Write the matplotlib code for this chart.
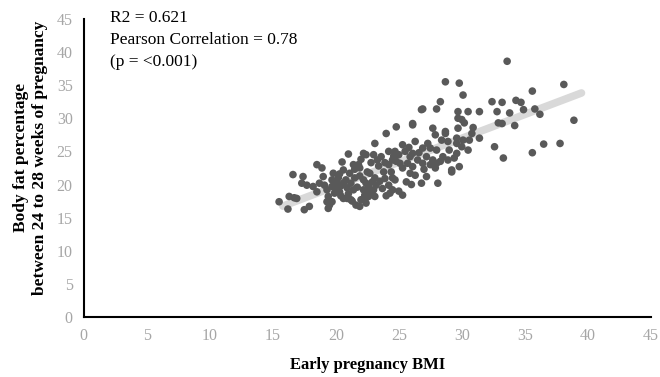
import numpy as np
import matplotlib.pyplot as plt

# early pregnancy BMI and body fat % (24-28 weeks)
bmi = [
    15.5, 16.2, 16.3, 16.7, 16.6, 16.9, 17.3, 17.4, 17.5, 17.9, 17.7, 18.2, 18.5, 18.5,
    18.9, 19.0, 18.7, 19.3, 19.4, 19.3, 19.5, 19.7, 19.8, 19.9, 19.1, 19.7, 20.1, 19.4,
    24.0, 23.1, 21.0, 22.2, 22.4, 23.0, 23.6, 24.2, 24.8, 21.4, 21.9, 20.6, 21.1, 20.2,
    22.7, 23.1, 23.8, 24.4, 24.5, 20.8, 21.5, 22.2, 19.9, 20.6, 21.2, 22.4, 23.2, 24.2,
    20.3, 21.4, 22.2, 23.0, 24.3, 20.6, 21.2, 22.0, 22.3, 21.6, 22.4, 23.1, 19.7, 21.8,
    26.8, 24.8, 26.1, 27.7, 27.9, 28.7, 29.7, 25.3, 26.3, 26.9, 27.5, 28.9, 29.6, 24.7,
    25.5, 26.1, 28.0, 29.0, 24.5, 25.9, 26.5, 27.2, 27.7, 28.5, 29.6, 25.1, 25.7, 26.9,
    28.3, 28.9, 25.3, 26.1, 27.5, 28.0, 29.2, 25.9, 26.3, 27.2, 24.7, 25.6, 26.8, 28.1,
    24.5, 25.3,
    29.8, 30.1, 32.4, 33.2, 34.3, 29.7, 30.5, 31.4, 32.8, 33.8, 30.0, 30.2, 32.9, 34.2,
    29.7, 30.9, 30.8, 31.4, 30.1, 30.6, 29.6, 30.0, 30.5, 32.6, 29.4, 33.3, 29.8, 29.2,
    33.6, 38.1, 35.6, 34.7, 34.9, 35.8, 36.2, 38.9, 33.2, 36.5, 37.8, 35.6,
    28.7, 28.3, 26.9, 28.0, 26.1, 28.7,
    20.9, 21.3, 22.3, 22.6, 21.9,
    20.0, 20.4, 20.9, 21.7, 22.6, 23.5, 23.9, 22.9, 21.9, 22.5, 23.4, 23.9, 24.6, 25.0,
    21.5, 20.3, 22.8, 23.3, 20.4, 21.0, 22.7, 23.7, 24.0, 25.0, 26.0, 27.0, 27.9, 26.6,
    27.3, 28.4, 25.8, 24.2, 22.0, 20.5,
]
body_fat = [
    17.4, 16.3, 18.2, 18.0, 21.5, 17.9, 20.2, 21.2, 16.2, 16.7, 19.9, 19.7, 18.9, 23.0,
    22.5, 21.2, 20.2, 19.2, 18.2, 17.4, 16.9, 20.7, 21.7, 18.7, 19.9, 19.7, 20.2, 16.4,
    27.7, 26.2, 24.6, 24.7, 24.5, 24.5, 24.2, 25.0, 23.5, 23.0, 22.5, 22.2, 21.7, 21.0,
    21.7, 21.0, 21.9, 21.9, 21.0, 20.7, 21.0, 20.7, 20.2, 20.2, 20.2, 20.2, 19.9, 19.9,
    18.9, 19.2, 19.2, 19.2, 18.7, 17.9, 17.7, 17.7, 18.4, 16.9, 17.2, 18.2, 17.4, 23.0,
    31.3, 28.7, 29.0, 28.5, 27.5, 27.7, 30.0, 26.0, 26.5, 25.5, 25.5, 26.5, 27.0, 25.0,
    25.0, 24.7, 25.2, 25.2, 23.7, 24.2, 23.7, 24.2, 23.7, 24.2, 24.7, 23.2, 23.2, 23.2,
    23.5, 23.7, 22.5, 22.7, 23.0, 23.2, 21.9, 21.7, 21.4, 21.2, 20.7, 20.4, 20.2, 20.2,
    19.2, 18.4,
    35.3, 33.5, 32.5, 32.4, 32.7, 31.0, 31.0, 31.0, 31.0, 30.8, 29.8, 29.3, 29.3, 28.9,
    28.5, 28.6, 27.7, 27.0, 26.7, 26.7, 26.2, 25.7, 25.2, 25.7, 24.0, 24.0, 22.7, 22.2,
    38.6, 35.1, 34.1, 32.4, 31.3, 31.4, 30.6, 29.7, 29.2, 26.1, 26.2, 24.8,
    35.5, 32.5, 31.4, 31.4, 29.2, 28.0,
    17.9, 17.5, 17.7, 18.2, 16.7,
    19.5, 19.8, 19.5, 19.6, 19.7, 20.5, 20.9, 20.4, 21.3, 21.9, 22.8, 23.3, 24.3, 24.5,
    22.3, 21.6, 23.3, 23.7, 18.3, 18.6, 18.9, 19.4, 18.3, 19.0, 20.0, 22.3, 22.5, 24.8,
    26.2, 26.7, 25.6, 23.0, 23.8, 23.4,
]

x_ticks = [0, 5, 10, 15, 20, 25, 30, 35, 40, 45]
y_ticks = [0, 5, 10, 15, 20, 25, 30, 35, 40, 45]

plt.rcParams['font.family'] = ['Liberation Serif', 'DejaVu Serif']

fig = plt.figure(figsize=(6.6, 3.77), dpi=100)
ax = fig.add_axes([0.127, 0.159, 0.859, 0.791])

# linear trend line
x = np.array(bmi)
y = np.array(body_fat)
slope, intercept = np.polyfit(x, y, 1)
xl = np.array([15.8, 39.5])
ax.plot(xl, slope * xl + intercept, color='#d9d9d9', lw=5.5, solid_capstyle='round', zorder=1)

ax.scatter(x, y, s=30, color='#595959', edgecolors='none', zorder=2)

ax.set_xlim(0, 45)
ax.set_ylim(0, 45)
ax.set_xticks(x_ticks)
ax.set_yticks(y_ticks)
ax.tick_params(length=0, labelsize=11.5, colors='#a6a6a6', pad=8)

for side in ['top', 'right']:
    ax.spines[side].set_visible(False)
for side in ['left', 'bottom']:
    ax.spines[side].set_linewidth(1.5)
    ax.spines[side].set_color('black')

ax.set_xlabel('Early pregnancy BMI', fontsize=12, fontweight='bold', labelpad=9)
ax.set_ylabel('Body fat percentage\nbetween 24 to 28 weeks of pregnancy',
              fontsize=12.5, fontweight='bold', linespacing=1.25)
ax.yaxis.set_label_coords(-0.064, 0.535)

fig.text(110 / 660, 1 - 10 / 377, 'R2 = 0.621\nPearson Correlation = 0.78\n(p = <0.001)',
         fontsize=12.5, va='top', ha='left', linespacing=1.5)

fig.savefig('out.png', dpi=100)
